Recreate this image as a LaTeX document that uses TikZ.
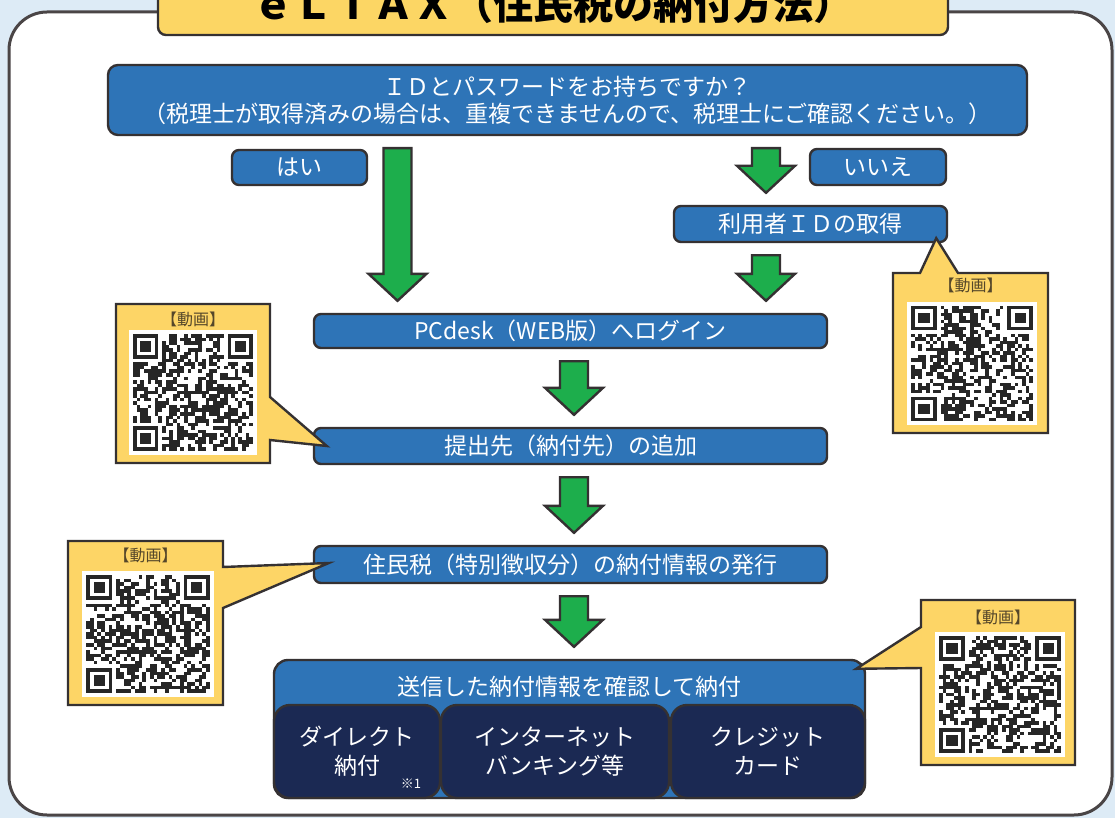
\documentclass[tikz,border=0pt]{standalone}
\usepackage{fontspec}
\setmainfont{Noto Sans CJK JP}
\usetikzlibrary{calc, positioning}

\definecolor{bgblue}{HTML}{DDEBF6}
\definecolor{panel}{HTML}{4A4546}
\definecolor{edge}{HTML}{353132}
\definecolor{flowblue}{HTML}{2E74B7}
\definecolor{paynavy}{HTML}{1B2953}
\definecolor{arrowgreen}{HTML}{1DAE4C}
\definecolor{memo}{HTML}{FDD566}
\definecolor{titlegold}{HTML}{FCD664}
\definecolor{memotext}{HTML}{55472A}
\definecolor{qrdark}{HTML}{262626}

% block arrow pointing down, x position, from node, to node
\newcommand{\flowarrow}[3]{%
  \draw [greenblock] let \p1 = (#2.south), \p2 = (#3.north), \p3 = (#1, 0) in
    (\x3 - 14pt, \y1 - 12pt) -- (\x3 + 14pt, \y1 - 12pt)
    -- (\x3 + 14pt, \y2 + 39pt) -- (\x3 + 29pt, \y2 + 39pt)
    -- (\x3, \y2 + 12pt) -- (\x3 - 29pt, \y2 + 39pt)
    -- (\x3 - 14pt, \y2 + 39pt) -- cycle;
}

% code patch, top left x, y, width, height, seed
\newcommand{\qrpatch}[5]{%
  \fill [white] (#1, #2) rectangle ++(#3, #4);
  \pgfmathsetseed{#5}
  \pgfmathsetmacro{\qrw}{(#3 - 8) / 33}
  \pgfmathsetmacro{\qrh}{(#4 - 8) / 33}
  \foreach \i in {0, ..., 32} {
    \foreach \j in {0, ..., 32} {
      \pgfmathrandominteger{\qrbit}{0}{99}
      \ifnum\qrbit < 52
        \fill [qrdark] ({#1 + 4 + \i * \qrw}, {#2 + 4 + \j * \qrh})
          rectangle ++(\qrw, \qrh);
      \fi
    }
  }
  \foreach \fx/\fy/\cx/\cy in {0/0/0/0, 26/0/25/0, 0/26/0/25} {
    \fill [white] ({#1 + 4 + \cx * \qrw}, {#2 + 4 + \cy * \qrh})
      rectangle ++({8 * \qrw}, {8 * \qrh});
    \fill [qrdark] ({#1 + 4 + \fx * \qrw}, {#2 + 4 + \fy * \qrh})
      rectangle ++({7 * \qrw}, {7 * \qrh});
    \fill [white] ({#1 + 4 + (\fx + 1) * \qrw}, {#2 + 4 + (\fy + 1) * \qrh})
      rectangle ++({5 * \qrw}, {5 * \qrh});
    \fill [qrdark] ({#1 + 4 + (\fx + 2) * \qrw}, {#2 + 4 + (\fy + 2) * \qrh})
      rectangle ++({3 * \qrw}, {3 * \qrh});
  }
}

\begin{document}
\begin{tikzpicture}[
    x = 1pt, y = -1pt,
    flowbox/.style = {draw = edge, fill = flowblue, line width = 2.4pt,
      rounded corners = 7pt, text = white, inner sep = 0pt,
      font = \fontsize{23}{27}\selectfont, align = center},
    paymethod/.style = {draw = edge, fill = paynavy, line width = 2.4pt,
      rounded corners = 16pt, text = white, inner sep = 0pt,
      minimum height = 93pt, font = \fontsize{23}{29}\selectfont,
      align = center},
    memobox/.style = {draw = edge, fill = memo, line width = 2.4pt,
      line join = miter},
    memolabel/.style = {text = memotext, inner sep = 0pt,
      font = \fontsize{16}{16}\selectfont},
    greenblock/.style = {draw = edge, fill = arrowgreen, line width = 2.4pt,
      line join = miter}
  ]

  \useasboundingbox (0, 0) rectangle (1115, 818);
  \clip (0, 0) rectangle (1115, 818);
  \fill [bgblue] (0, 0) rectangle (1115, 818);
  \draw [fill = white, draw = panel, line width = 3pt, rounded corners = 38pt]
    (9, 12) rectangle (1112, 815);

  \node at (553, 4) [draw = edge, fill = titlegold, line width = 2.4pt,
    rounded corners = 8pt, minimum width = 790pt, minimum height = 62pt,
    font = \bfseries\fontsize{40}{40}\selectfont, name = title]
    {ｅＬＴＡＸ（住民税の納付方法）};

  \node at (567.5, 100) [flowbox, minimum width = 919pt, minimum height = 70pt,
    rounded corners = 10pt, name = question]
    {ＩＤとパスワードをお持ちですか？\\
     （税理士が取得済みの場合は、重複できませんので、税理士にご確認ください。）};

  \node at (299.5, 167.5) [flowbox, minimum width = 135pt, minimum height = 35pt,
    name = yes] {はい};
  \node at (878, 167) [flowbox, minimum width = 136pt, minimum height = 36pt,
    name = no] {いいえ};
  \node at (810.5, 224) [flowbox, minimum width = 273pt, minimum height = 36pt,
    name = userid] {利用者ＩＤの取得};
  \node at (570.5, 331) [flowbox, minimum width = 513pt, minimum height = 34pt,
    name = login] {PCdesk（WEB版）へログイン};
  \node at (570.5, 446) [flowbox, minimum width = 513pt, minimum height = 36pt,
    name = dest] {提出先（納付先）の追加};
  \node at (570.5, 564.5) [flowbox, minimum width = 513pt, minimum height = 37pt,
    name = issue] {住民税（特別徴収分）の納付情報の発行};

  \node at (569.5, 729) [flowbox, minimum width = 591pt, minimum height = 138pt,
    rounded corners = 14pt, name = pay] {};
  \node at (569.5, 687) [text = white, inner sep = 0pt,
    font = \fontsize{23}{27}\selectfont, name = payhead]
    {送信した納付情報を確認して納付};
  \node at (357, 751.5) [paymethod, minimum width = 166pt, name = direct]
    {ダイレクト\\納付};
  \node at (555, 751.5) [paymethod, minimum width = 228pt, name = netbank]
    {インターネット\\バンキング等};
  \node at (768, 751.5) [paymethod, minimum width = 194pt, name = credit]
    {クレジット\\カード};
  \node at (411, 784) [text = white, inner sep = 0pt,
    font = \fontsize{13}{13}\selectfont, name = note] {※1};

  \flowarrow{397.5}{question}{login}
  \flowarrow{766}{question}{userid}
  \flowarrow{766}{userid}{login}
  \flowarrow{574}{login}{dest}
  \flowarrow{574}{dest}{issue}
  \flowarrow{574}{issue}{pay}

  % video callouts
  \draw [memobox] (116, 304) -- (270, 304) -- (270, 397)
    -- ([xshift = 14pt] dest.west) -- (270, 440) -- (270, 463)
    -- (116, 463) -- cycle;
  \node at (193, 319) [memolabel, name = memoA] {【動画】};
  \qrpatch{129}{330}{128}{125}{11}

  \draw [memobox] (68, 541) -- (223, 541) -- (223, 567)
    -- ([xshift = 16pt, yshift = 1.5pt] issue.west) -- (223, 608) -- (223, 705)
    -- (68, 705) -- cycle;
  \node at (145.5, 555) [memolabel, name = memoB] {【動画】};
  \qrpatch{82}{571}{132}{126}{23}

  \draw [memobox] (893, 273) -- (920, 273)
    -- ([xshift = -12pt, yshift = 5pt] userid.south east) -- (958, 273)
    -- (1048, 273) -- (1048, 433) -- (893, 433) -- cycle;
  \node at (970.5, 285) [memolabel, name = memoC] {【動画】};
  \qrpatch{907}{302}{130}{123}{37}

  \draw [memobox] (921, 600) -- (1075, 600) -- (1075, 765) -- (921, 765)
    -- (921, 668) -- ([xshift = -10pt, yshift = -10pt] pay.north east)
    -- (921, 627) -- cycle;
  \node at (998, 617) [memolabel, name = memoD] {【動画】};
  \qrpatch{935}{632}{130}{125}{41}
\end{tikzpicture}
\end{document}
